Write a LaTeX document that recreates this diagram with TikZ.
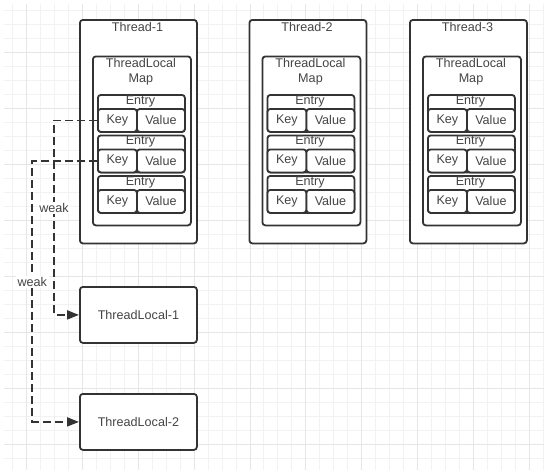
\documentclass[tikz,border=0pt]{standalone}
\usepackage{fontspec}
\setmainfont{Liberation Sans}
\usetikzlibrary{arrows.meta}
\definecolor{ink}{HTML}{333333}
\definecolor{txt}{HTML}{454545}
\definecolor{gridminor}{HTML}{F2F2F2}
\definecolor{gridmajor}{HTML}{E6E6E6}
\tikzset{
  box/.style={draw=ink, fill=white, line width=1.8pt, rounded corners=3pt,
    inner sep=0pt, anchor=north west, text=txt, font=\fontsize{12.6}{14}\selectfont},
  lbl/.style={text=txt, font=\fontsize{12.6}{14.8}\selectfont, inner sep=0pt, align=center},
  weakline/.style={draw=ink, line width=1.8pt, dash pattern=on 8pt off 4pt,
    -{Triangle[length=12pt,width=9pt]}},
  weaklbl/.style={lbl, fill=white, inner sep=1.5pt},
}
\begin{document}
\begin{tikzpicture}[x=1pt, y=-1pt]
  \useasboundingbox (0,0) rectangle (548,474);
  \fill[white] (0,0) rectangle (548,474);

  % background grid: minor lines every 14px, heavier line every fourth
  \foreach \k in {0,...,38}
    \draw[gridminor, line width=1pt] ({12.7+13.96*\k},4) -- ({12.7+13.96*\k},470);
  \foreach \k in {0,...,32}
    \draw[gridminor, line width=1pt] (4,{10+14*\k}) -- (544,{10+14*\k});
  \foreach \k in {1,5,...,37}
    \draw[gridmajor, line width=1pt] ({12.7+13.96*\k},4) -- ({12.7+13.96*\k},470);
  \foreach \k in {3,7,...,31}
    \draw[gridmajor, line width=1pt] (4,{10+14*\k}) -- (544,{10+14*\k});

  % three threads, each holding a ThreadLocalMap with three entries
  \foreach \X/\n in {79/1, 248.5/2, 409/3} {
    \node[box, minimum width=117pt, minimum height=223.5pt] (t\n) at (\X,19) {};
    \node[lbl] (tt\n) at ({\X+58.5},27) {Thread-\n};
    \node[box, minimum width=98pt, minimum height=169pt] (m\n) at ({\X+13},55.5) {};
    \node[lbl] (mt\n) at ({\X+62},71.5) {ThreadLocal\\Map};
    \foreach \j/\ey in {1/94, 2/134.5, 3/175} {
      \node[box, minimum width=87pt, minimum height=37pt] (e\n-\j) at ({\X+18},\ey) {};
      \node[lbl] (et\n-\j) at ({\X+61.5},{\ey+7.3}) {Entry};
      \node[box, minimum width=39pt, minimum height=23pt] (k\n-\j) at ({\X+18},{\ey+14}) {Key};
      \node[box, minimum width=48pt, minimum height=23pt] (v\n-\j) at ({\X+57},{\ey+14}) {Value};
    }
  }

  % ThreadLocal instances
  \node[box, minimum width=117pt, minimum height=56pt] (tl1) at (79,286) {ThreadLocal-1};
  \node[box, minimum width=117pt, minimum height=56pt] (tl2) at (79,393) {ThreadLocal-2};

  % weak references from the entry keys
  \coordinate (b1) at (54,0);
  \coordinate (b2) at (32.3,0);
  \draw[weakline] (k1-1.west) -- (k1-1.west -| b1) |- (tl1.west);
  \draw[weakline] (k1-2.west) -- (k1-2.west -| b2) |- (tl2.west);
  \node[weaklbl] (w1) at (54,208) {weak};
  \node[weaklbl] (w2) at (32.3,282) {weak};
\end{tikzpicture}
\end{document}
